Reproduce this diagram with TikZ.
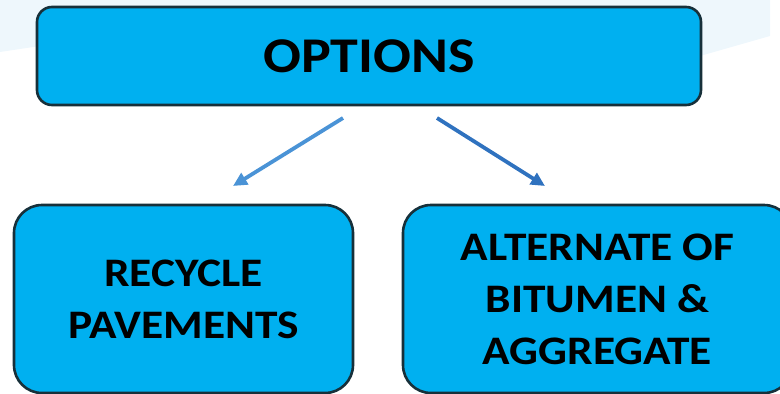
\documentclass[tikz,border=0pt]{standalone}
\usepackage{fontspec}
\setmainfont{Carlito}[FakeStretch=1.12]
\usetikzlibrary{arrows.meta}
\definecolor{boxfill}{HTML}{00B0F0}
\definecolor{boxline}{HTML}{17303A}
\definecolor{swoosh}{HTML}{EEF7FC}
\definecolor{arrowl}{HTML}{4A93D6}
\definecolor{arrowr}{HTML}{2F72BF}
\begin{document}
\begin{tikzpicture}[x=1pt,y=-1pt,
    optbox/.style={draw=boxline, line width=2.6pt, fill=boxfill, align=center,
        inner sep=0pt, font=\bfseries\fontsize{40.5}{52}\selectfont},
    optarrow/.style={line width=3.8pt, -{Triangle[length=14pt,width=13pt]}}]
\useasboundingbox (0,0) rectangle (780,394);
\clip (0,0) rectangle (780,394);
\fill[swoosh] (0,0) -- (0,52) -- (40,46) -- (700,56) -- (770,36) -- (770,0) -- cycle;
\node[optbox, rounded corners=15pt, minimum width=664pt, minimum height=98pt,
    font=\bfseries\fontsize{50}{60}\selectfont] (options) at (369,56) {OPTIONS};
\node[optbox, rounded corners=28pt, minimum width=339pt, minimum height=188pt]
    (recycle) at (183.5,299) {RECYCLE\\PAVEMENTS};
\node[optbox, rounded corners=28pt, minimum width=389pt, minimum height=188pt]
    (alternate) at (597.5,299) {ALTERNATE OF\\BITUMEN \&\\AGGREGATE};
\coordinate (l1) at (343,118);
\coordinate (l2) at (233,186);
\coordinate (r1) at (437,118);
\coordinate (r2) at (545,186);
\draw[optarrow, arrowl] (l1) -- (l2);
\draw[optarrow, arrowr] (r1) -- (r2);
\end{tikzpicture}
\end{document}
